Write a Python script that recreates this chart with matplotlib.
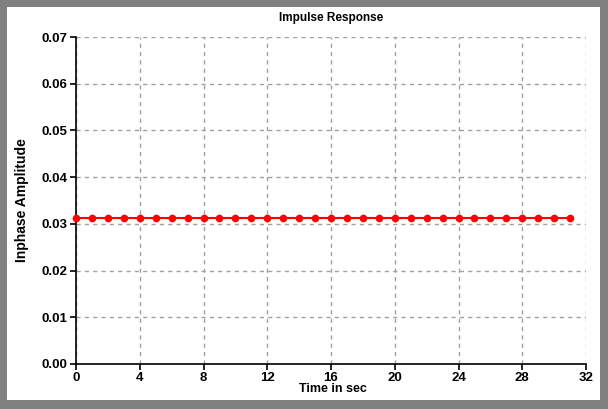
import matplotlib
matplotlib.use("Agg")
import matplotlib.pyplot as plt
from matplotlib.patches import Rectangle

time = list(range(32))
amplitude = [0.03125] * 32
xticks = [0, 4, 8, 12, 16, 20, 24, 28, 32]
yticks = [0.00, 0.01, 0.02, 0.03, 0.04, 0.05, 0.06, 0.07]

plt.rcParams['font.family'] = ['Liberation Sans', 'DejaVu Sans']

W, H = 608, 409
fig = plt.figure(figsize=(W / 100, H / 100), dpi=100)
fig.patch.set_facecolor('#808080')
fig.add_artist(Rectangle((7 / W, 1 - 400 / H), (600 - 7) / W, (400 - 7) / H,
                         transform=fig.transFigure, facecolor='white', edgecolor='none', zorder=0))

left, right, top, bottom = 76, 586, 37, 364
ax = fig.add_axes([left / W, 1 - bottom / H, (right - left) / W, (bottom - top) / H])
ax.set_facecolor('none')
ax.plot(time, amplitude, color='#ff0000', linewidth=1.5, marker='o', markersize=4.5,
        markerfacecolor='#ff0000', markeredgecolor='#ff0000', zorder=3, clip_on=False)
ax.set_xlim(0, 32)
ax.set_ylim(0, 0.07)
ax.set_xticks(xticks)
ax.set_xticklabels([str(t) for t in xticks])
ax.set_yticks(yticks)
ax.set_yticklabels([f"{v:.2f}" for v in yticks])
ax.grid(True, color='#a0a0a0', linestyle=(0, (3, 3)), linewidth=1)
ax.spines['top'].set_visible(False)
ax.spines['right'].set_visible(False)
for s in ('left', 'bottom'):
    ax.spines[s].set_linewidth(1.2)
    ax.spines[s].set_color('black')
ax.tick_params(axis='both', direction='out', length=4, width=1.2, pad=2,
               labelsize=9.5, colors='black')
for lab in ax.get_xticklabels() + ax.get_yticklabels():
    lab.set_fontweight('bold')

fig.text(331 / W, 1 - 18 / H, 'Impulse Response', ha='center', va='center',
         fontsize=8.5, fontweight='bold')
fig.text(22 / W, 1 - 200 / H, 'Inphase Amplitude', ha='center', va='center',
         rotation=90, fontsize=10, fontweight='bold')
fig.text(333 / W, 1 - 389 / H, 'Time in sec', ha='center', va='center',
         fontsize=9, fontweight='bold')

fig.savefig('out.png', dpi=100, facecolor=fig.get_facecolor())
